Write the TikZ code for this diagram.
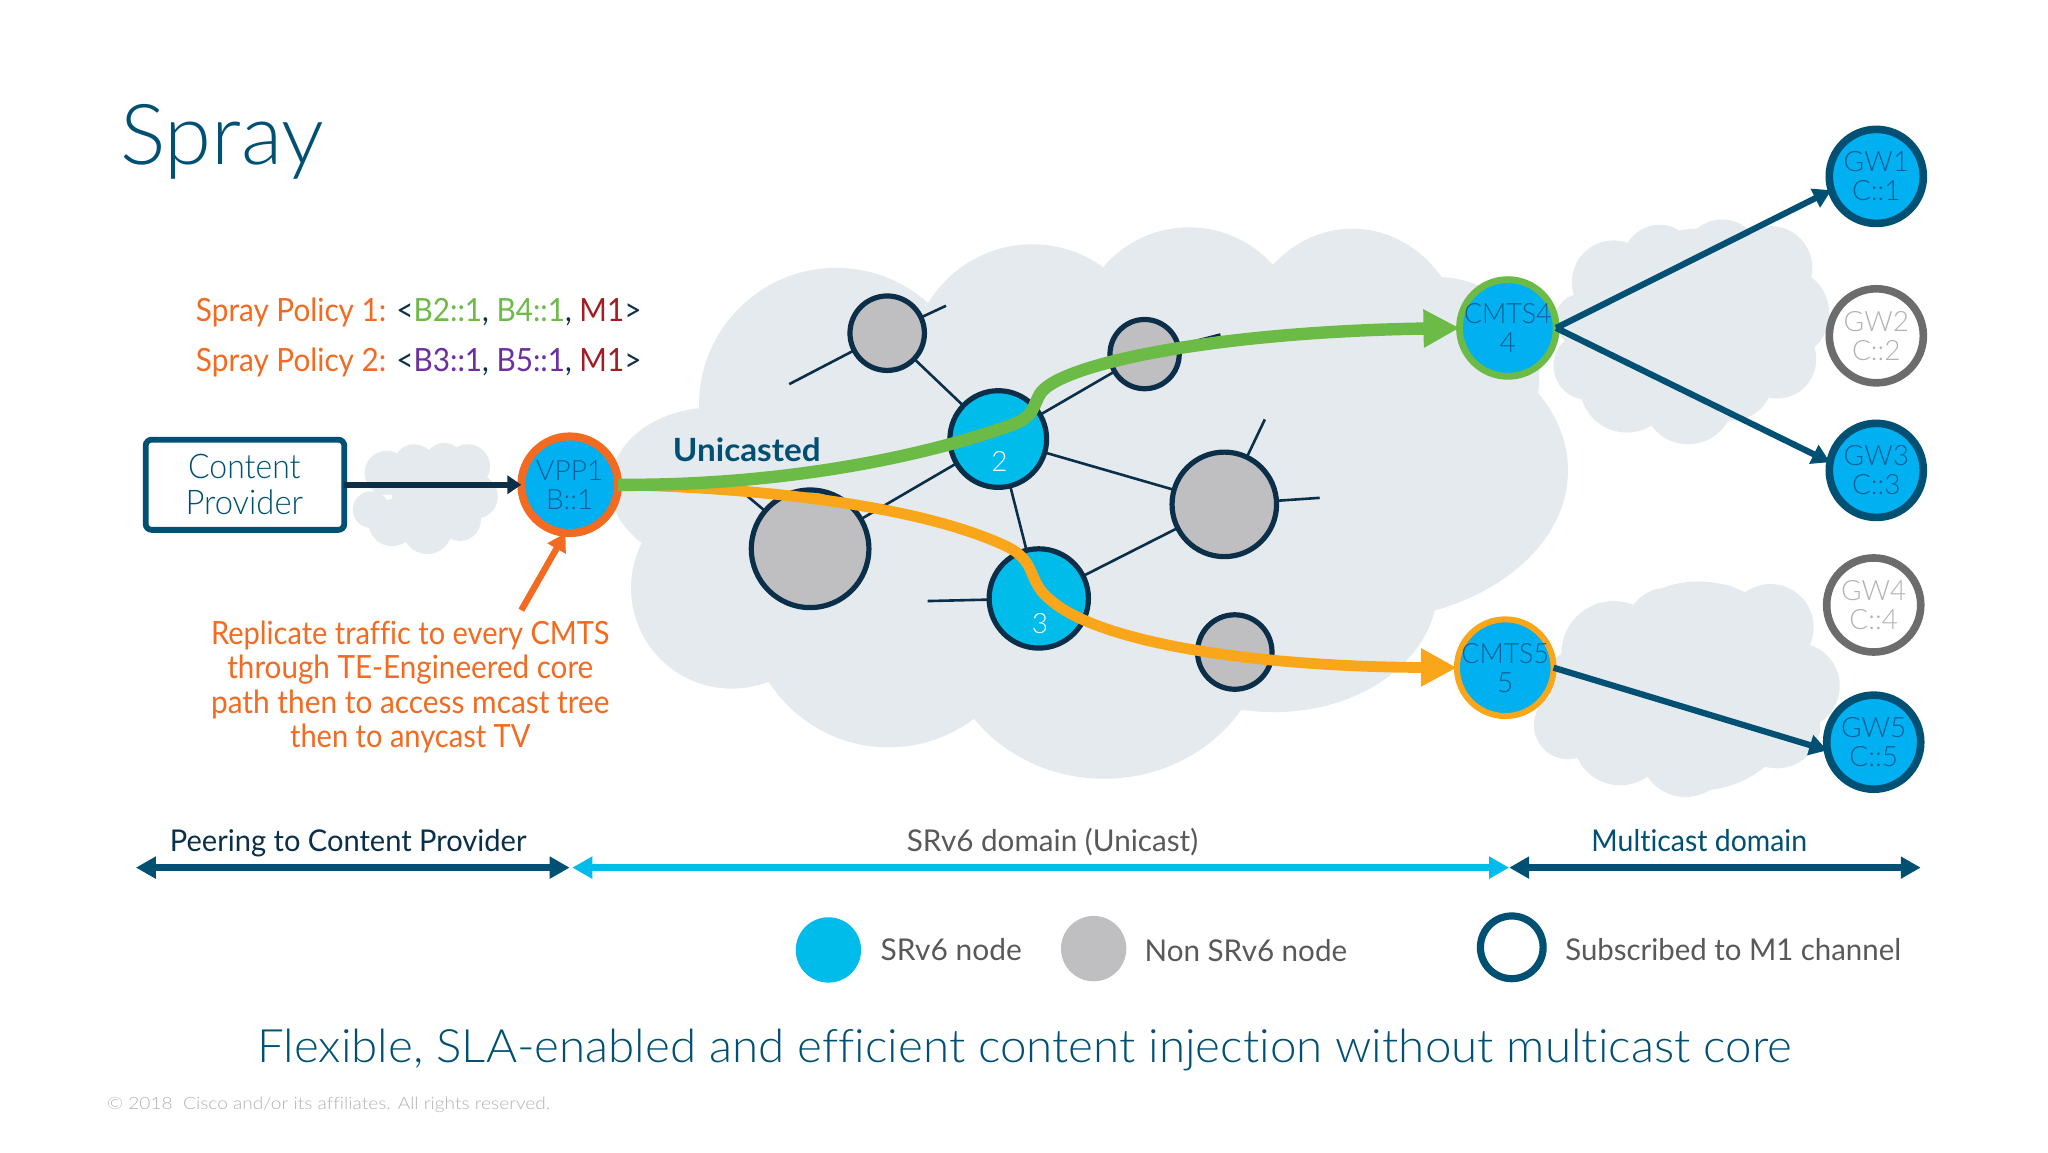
\documentclass[tikz,border=0pt]{standalone}
\usepackage{graphicx}
\usepackage{fontspec}
\usetikzlibrary{arrows.meta}
\setmainfont{Lato}
\newfontfamily\lightf[Ligatures=NoCommon]{Lato Light}
\newfontfamily\regf[Ligatures=NoCommon]{Lato}
\newdimen\unitpx \unitpx=0.6533pt
\newcommand\fitw[2]{\resizebox{#1\unitpx}{\height}{#2}}
\definecolor{cloudc}{HTML}{E5EAEE}
\definecolor{navy}{HTML}{005073}
\definecolor{ink}{HTML}{0B2F48}
\definecolor{sky}{HTML}{00B0F0}
\definecolor{skyb}{HTML}{00BCEB}
\definecolor{stone}{HTML}{BFBEC0}
\definecolor{orng}{HTML}{F26B21}
\definecolor{amber}{HTML}{FAA61A}
\definecolor{leaf}{HTML}{6CBB46}
\definecolor{plum}{HTML}{6B2FA0}
\definecolor{wine}{HTML}{A11D21}
\definecolor{slate}{HTML}{58595B}
\definecolor{nodetxt}{HTML}{0F5F96}
\tikzset{
  x=0.6533pt,y=-0.6533pt,
  txt/.style={inner sep=0pt,outer sep=0pt,anchor=base},
  txtw/.style={inner sep=0pt,outer sep=0pt,anchor=base west},
  dot/.style={circle,inner sep=0pt,outer sep=0pt,minimum size=#1*0.6533pt},
  link/.style={draw=ink,line width=1.3pt},
  nonsr/.style={dot=#1,fill=stone,draw=ink,line width=2.6pt},
  srv/.style={dot=#1,fill=skyb,draw=ink,line width=2.6pt},
  gwon/.style={dot=72,fill=sky,draw=navy,line width=3.8pt},
  gwoff/.style={dot=72,fill=white,draw=gray!85!black,line width=3.8pt},
  lab/.style={inner sep=0pt,outer sep=0pt,align=center,font=\lightf\fontsize{14}{14.6}\selectfont},
  tree/.style={draw=navy,line width=3.1pt,-{Triangle[length=9pt,width=10pt]}},
  span/.style={line width=3.6pt,{Triangle[length=10pt,width=10.5pt]}-{Triangle[length=10pt,width=10.5pt]}},
  route/.style={line width=#1,line join=round}
}
\begin{document}
\begin{tikzpicture}
\useasboundingbox[fill=white] (0,0) rectangle (1567.4,881.7);

% clouds
\fill[cloudc]
  (640,310) ellipse [x radius=105,y radius=105]
  (790,280) ellipse [x radius=93,y radius=93]
  (910,260) ellipse [x radius=86,y radius=86]
  (1035,275) ellipse [x radius=88,y radius=100]
  (1100,290) ellipse [x radius=78,y radius=78]
  (1040,360) ellipse [x radius=160,y radius=115]
  (975,450) ellipse [x radius=125,y radius=95]
  (845,480) ellipse [x radius=125,y radius=116]
  (680,460) ellipse [x radius=110,y radius=112]
  (560,450) ellipse [x radius=77,y radius=77]
  (545,372) ellipse [x radius=78,y radius=60]
  (800,380) ellipse [x radius=250,y radius=150];
\fill[cloudc]
  (1235,216) circle [radius=32]
  (1270,200) circle [radius=28]
  (1318,198) circle [radius=30]
  (1355,205) circle [radius=32]
  (1365,240) circle [radius=35]
  (1360,275) circle [radius=30]
  (1325,290) circle [radius=32]
  (1292,305) circle [radius=35]
  (1245,295) circle [radius=36]
  (1215,280) circle [radius=26]
  (1210,245) circle [radius=20]
  (1300,250) circle [radius=75];
\fill[cloudc]
  (1235,500) circle [radius=40]
  (1275,480) circle [radius=30]
  (1315,478) circle [radius=31]
  (1355,480) circle [radius=33]
  (1375,525) circle [radius=33]
  (1360,555) circle [radius=33]
  (1290,575) circle [radius=35]
  (1240,565) circle [radius=36]
  (1200,555) circle [radius=26]
  (1205,520) circle [radius=22]
  (1300,525) circle [radius=80];
\fill[cloudc]
  (296,362) circle [radius=17]
  (317,356) circle [radius=16]
  (340,354) circle [radius=15]
  (358,357) circle [radius=17]
  (364,380) circle [radius=17]
  (352,398) circle [radius=16]
  (327,405) circle [radius=19]
  (300,400) circle [radius=18]
  (284,390) circle [radius=14]
  (330,380) circle [radius=30];

% title and policy text
\node[txtw,text=navy,font=\lightf\fontsize{42}{42}\selectfont] (title) at (92,126) {\fitw{156}{Spray}};
\node[txtw,font=\regf\fontsize{16}{16}\selectfont] (pol1) at (150,246) {\fitw{341}{\textcolor{orng}{Spray Policy 1:} \textcolor{ink}{<}\textcolor{leaf}{B2::1}\textcolor{ink}{,} \textcolor{leaf}{B4::1}\textcolor{ink}{,} \textcolor{wine}{M1}\textcolor{ink}{>}}};
\node[txtw,font=\regf\fontsize{16}{16}\selectfont] (pol2) at (150,284) {\fitw{341}{\textcolor{orng}{Spray Policy 2:} \textcolor{ink}{<}\textcolor{plum}{B3::1}\textcolor{ink}{,} \textcolor{plum}{B5::1}\textcolor{ink}{,} \textcolor{wine}{M1}\textcolor{ink}{>}}};

% content provider
\node[draw=navy,line width=2.9pt,rounded corners=3pt,fill=white,minimum width=152*0.6533pt,minimum height=69*0.6533pt,inner sep=0pt,outer sep=0pt] (cp) at (187.5,371) {};
\node[txt,text=navy,font=\lightf\fontsize{17}{17}\selectfont] (cpa) at (187,366.5) {\fitw{86}{Content}};
\node[txt,text=navy,font=\lightf\fontsize{17}{17}\selectfont] (cpb) at (187,393.5) {\fitw{90}{Provider}};

% mesh nodes
\node[nonsr=57] (n1) at (679,255) {};
\node[nonsr=53] (n4) at (876,271) {};
\node[srv=74] (s2) at (764,336) {};
\node[nonsr=90] (n5) at (620,420) {};
\node[srv=76] (s3) at (795,458) {};
\node[nonsr=80] (n6) at (937,386) {};
\node[nonsr=57] (n7) at (945,499) {};
\coordinate (f1) at (604,294);
\coordinate (f2) at (724,234);
\coordinate (f3) at (934,256);
\coordinate (f4) at (570,378);
\coordinate (f5) at (968,321);
\coordinate (f6) at (1010,381);
\coordinate (f7) at (710,460);
\draw[link] (f1) -- (n1) (n1) -- (f2) (n1) -- (s2) (s2) -- (n4) (n4) -- (f3) (s2) -- (n5) (f4) -- (n5)
  (s2) -- (s3) (s2) -- (n6) (n6) -- (f5) (n6) -- (f6) (s3) -- (n6) (f7) -- (s3);
\node[txt,text=white,font=\lightf\fontsize{14}{14}\selectfont] (t2) at (765,361) {2};
\node[txt,text=white,font=\lightf\fontsize{14}{14}\selectfont] (t3) at (796,485) {3};

% endpoints
\node[dot=74,fill=sky,draw=orng,line width=4pt] (vpp) at (436,371) {};
\node[dot=74,fill=sky,draw=leaf,line width=3.4pt] (c4) at (1154,251) {};
\node[dot=74,fill=sky,draw=amber,line width=3pt] (c5) at (1152,511) {};
\node[gwon] (g1) at (1436,135) {};
\node[gwoff] (g2) at (1436,257) {};
\node[gwon] (g3) at (1436,360) {};
\node[gwoff] (g4) at (1434,463) {};
\node[gwon] (g5) at (1434,568) {};

\node[lab,text=nodetxt] (vppt) at (vpp) {VPP1\\B::1};
\node[lab,text=nodetxt] (c4t) at (c4) {\fitw{67}{CMTS4}\\4};
\node[lab,text=nodetxt] (c5t) at (c5) {\fitw{67}{CMTS5}\\5};
\node[lab,text=nodetxt] (g1t) at (g1) {GW1\\C::1};
\node[lab,text=gray!60] (g2t) at (g2) {GW2\\C::2};
\node[lab,text=nodetxt] (g3t) at (g3) {GW3\\C::3};
\node[lab,text=gray!60] (g4t) at (g4) {GW4\\C::4};
\node[lab,text=nodetxt] (g5t) at (g5) {GW5\\C::5};

% connectors
\draw[ink,line width=2.9pt,-{Triangle[length=7pt,width=9pt]}] (cp.east) -- (vpp.west);
\coordinate (rs) at (399,467);
\draw[orng,line width=3.2pt,-{Triangle[length=9pt,width=10pt]}] (rs) -- (vpp.265);
\draw[route=5.4pt,amber,-{Triangle[length=18pt,width=18pt]}] (vpp.east) .. controls (570,373) and (700,385) .. (770,418) .. controls (795,430) and (785,445) .. (805,460) .. controls (840,490) and (950,510) .. (c5.west);
\draw[route=6.2pt,leaf,-{Triangle[length=18pt,width=18pt]}] (vpp.east) .. controls (590,372) and (700,352) .. (775,325) .. controls (793,318) and (790,310) .. (797,300) .. controls (815,278) and (930,254) .. (c4.west);
\draw[tree] (c4.east) -- (g1.197);
\draw[tree] (c4.east) -- (g3.170);
\draw[tree] (c5.east) -- (g5.190);

% replicate
\node[txt,text=orng,font=\regf\fontsize{16}{16}\selectfont] (r1) at (314,493) {\fitw{305}{Replicate traffic to every CMTS}};
\node[txt,text=orng,font=\regf\fontsize{16}{16}\selectfont] (r2) at (314,519.5) {\fitw{280}{through TE-Engineered core}};
\node[txt,text=orng,font=\regf\fontsize{16}{16}\selectfont] (r3) at (314,546) {\fitw{305}{path then to access mcast tree}};
\node[txt,text=orng,font=\regf\fontsize{16}{16}\selectfont] (r4) at (314,572) {\fitw{184}{then to anycast TV}};
\node[txtw,text=navy,font=\regf\bfseries\fontsize{16}{16}\selectfont] (uni) at (515,353.5) {\fitw{113}{Unicasted}};

% domain bars
\coordinate (b0) at (104,664);
\coordinate (b1) at (436,664);
\coordinate (b2) at (438,664);
\coordinate (b3) at (1155,664);
\coordinate (b4) at (1155,664);
\coordinate (b5) at (1470,664);
\draw[span,skyb] (b2) -- (b3);
\draw[span,navy] (b0) -- (b1);
\draw[span,navy] (b4) -- (b5);
\node[txtw,text=ink,font=\regf\fontsize{15}{15}\selectfont] (d1) at (130,652) {\fitw{273}{Peering to Content Provider}};
\node[txtw,text=slate,font=\regf\fontsize{15}{15}\selectfont] (d2) at (694,652) {\fitw{223}{SRv6 domain (Unicast)}};
\node[txtw,text=navy,font=\regf\fontsize{15}{15}\selectfont] (d3) at (1218,652) {\fitw{165}{Multicast domain}};

% legend
\node[dot=50,fill=skyb] (l1) at (634,727) {};
\node[dot=50,fill=stone] (l2) at (837,726) {};
\node[dot=48,draw=navy,line width=3.6pt,fill=white] (l3) at (1157,725) {};
\node[txtw,text=slate,font=\regf\fontsize{15}{15}\selectfont] (lt1) at (674,735) {\fitw{108}{SRv6 node}};
\node[txtw,text=slate,font=\regf\fontsize{15}{15}\selectfont] (lt2) at (876,736) {\fitw{155}{Non SRv6 node}};
\node[txtw,text=slate,font=\regf\fontsize{15}{15}\selectfont] (lt3) at (1198,735) {\fitw{257}{Subscribed to M1 channel}};

% footer
\node[txtw,text=navy,font=\lightf\fontsize{23}{23}\selectfont] (foot) at (197,813) {\fitw{1174}{Flexible, SLA-enabled and efficient content injection without multicast core}};
\node[txtw,text=gray!60,font=\lightf\fontsize{8.5}{8.5}\selectfont] (copy) at (82,849) {\fitw{339}{© 2018\ \ Cisco and/or its affiliates. All rights reserved.}};
\end{tikzpicture}
\end{document}
